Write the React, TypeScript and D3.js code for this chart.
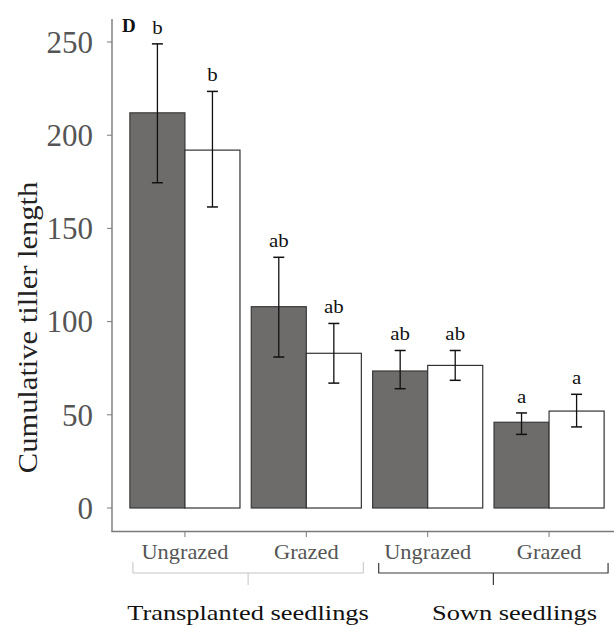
import React from "react";
import * as d3 from "d3";

const groups = ["TU", "TG", "SU", "SG"];
const groupLabels = ["Ungrazed", "Grazed", "Ungrazed", "Grazed"];
const series = ["dark", "white"];
const means = [
  [212, 192],
  [108, 83],
  [73.5, 76.5],
  [46, 52],
];
const errLow = [
  [174.5, 161.5],
  [81, 67],
  [64, 68.5],
  [39.5, 43.5],
];
const errHigh = [
  [249, 223.5],
  [134.5, 99],
  [84.5, 84.5],
  [51, 61],
];
const letters = [
  ["b", "b"],
  ["ab", "ab"],
  ["ab", "ab"],
  ["a", "a"],
];
const yTicks = [0, 50, 100, 150, 200, 250];
const siteLabels = ["Transplanted seedlings", "Sown seedlings"];

const W = 614;
const H = 632;
const FONT = "'Liberation Serif', 'Times New Roman', serif";

export default function App() {
  const y = d3.scaleLinear().domain([0, 250]).range([508, 42]);
  const x = d3.scaleBand<string>().domain(groups).range([124.3, 609.7]).paddingInner(0.093).paddingOuter(0.046);
  const xs = d3.scaleBand<string>().domain(series).range([0, x.bandwidth()]);
  const fills = ["#6e6b6b", "#ffffff"];
  const strokes = ["#3a3a3a", "#333333"];
  const axisColor = "#7a7a7a";

  const tickX = (g: string) => (x(g) as number) + x.bandwidth() / 2;

  const bracket = (x0: number, x1: number, top: number, bottom: number, mid: number) =>
    `M${x0},${top} L${x0},${bottom} L${x1},${bottom} L${x1},${top} M${mid},${bottom} L${mid},${bottom + 12}`;

  const c0 = tickX(groups[0]);
  const c1 = tickX(groups[1]);
  const c2 = tickX(groups[2]);
  const c3 = tickX(groups[3]);
  const b0s = c0 - 52, b0e = c1 + 57;
  const b1s = c2 - 49, b1e = c3 + 59;

  return (
    <svg width={W} height={H} style={{ position: "absolute", left: 0, top: 0, background: "#fff" }} fontFamily={FONT}>
      <rect x={0} y={0} width={W} height={H} fill="#fff" />
      {/* axes */}
      <line x1={112} x2={112} y1={19} y2={531.5} stroke={axisColor} strokeWidth={1.4} />
      <line x1={111.3} x2={W} y1={531.5} y2={531.5} stroke={axisColor} strokeWidth={1.4} />
      {yTicks.map((t) => (
        <g key={t}>
          <line x1={107} x2={112} y1={y(t)} y2={y(t)} stroke={axisColor} strokeWidth={1} />
          <text x={93} y={y(t)} dy="0.35em" textAnchor="end" fontSize={31} fill="#555">
            {t}
          </text>
        </g>
      ))}
      {groups.map((g, i) => (
        <g key={g}>
          <line x1={tickX(g)} x2={tickX(g)} y1={531.5} y2={537} stroke={axisColor} strokeWidth={1} />
          <text
            transform={`translate(${tickX(g)}, 559) scale(1.12, 1)`}
            textAnchor="middle"
            fontSize={20}
            fill="#555"
          >
            {groupLabels[i]}
          </text>
        </g>
      ))}
      <text
        transform={`translate(37, 327.5) rotate(-90) scale(1.13, 1)`}
        textAnchor="middle"
        fontSize={27}
        fill="#222"
      >
        Cumulative tiller length
      </text>
      {/* bars */}
      {groups.map((g, i) => (
        <g key={"b" + g} transform={`translate(${x(g)},0)`}>
          {series.map((s, j) => {
            const bx = xs(s) as number;
            return (
              <rect
                key={s}
                x={bx}
                y={y(means[i][j])}
                width={xs.bandwidth()}
                height={y(0) - y(means[i][j])}
                fill={fills[j]}
                stroke={strokes[j]}
                strokeWidth={1.2}
              />
            );
          })}
          {series.map((s, j) => {
            const bx = xs(s) as number;
            const cx = bx + xs.bandwidth() / 2;
            return (
              <g key={"e" + s}>
                <line x1={cx} x2={cx} y1={y(errLow[i][j])} y2={y(errHigh[i][j])} stroke="#111" strokeWidth={1.3} />
                <line x1={cx - 5.5} x2={cx + 5.5} y1={y(errLow[i][j])} y2={y(errLow[i][j])} stroke="#111" strokeWidth={1.5} />
                <line x1={cx - 5.5} x2={cx + 5.5} y1={y(errHigh[i][j])} y2={y(errHigh[i][j])} stroke="#111" strokeWidth={1.5} />
                <text
                  transform={`translate(${cx}, ${y(errHigh[i][j]) - 10}) scale(1.1, 1)`}
                  textAnchor="middle"
                  fontSize={19}
                  fill="#111"
                >
                  {letters[i][j]}
                </text>
              </g>
            );
          })}
        </g>
      ))}
      <text x={122} y={32} fontSize={19} fontWeight="bold" fill="#111">
        D
      </text>
      {/* brackets */}
      <path d={bracket(b0s, b0e, 562, 573, (b0s + b0e) / 2)} fill="none" stroke="#c4c4c4" strokeWidth={1} />
      <path d={bracket(b1s, b1e, 563, 573, (b1s + b1e) / 2)} fill="none" stroke="#3a3a3a" strokeWidth={1.2} />
      <text transform={`translate(${(128 + 368) / 2}, 620) scale(1.2, 1)`} textAnchor="middle" fontSize={22} fill="#111">
        {siteLabels[0]}
      </text>
      <text transform={`translate(${(432 + 597) / 2}, 620) scale(1.2, 1)`} textAnchor="middle" fontSize={22} fill="#111">
        {siteLabels[1]}
      </text>
    </svg>
  );
}
